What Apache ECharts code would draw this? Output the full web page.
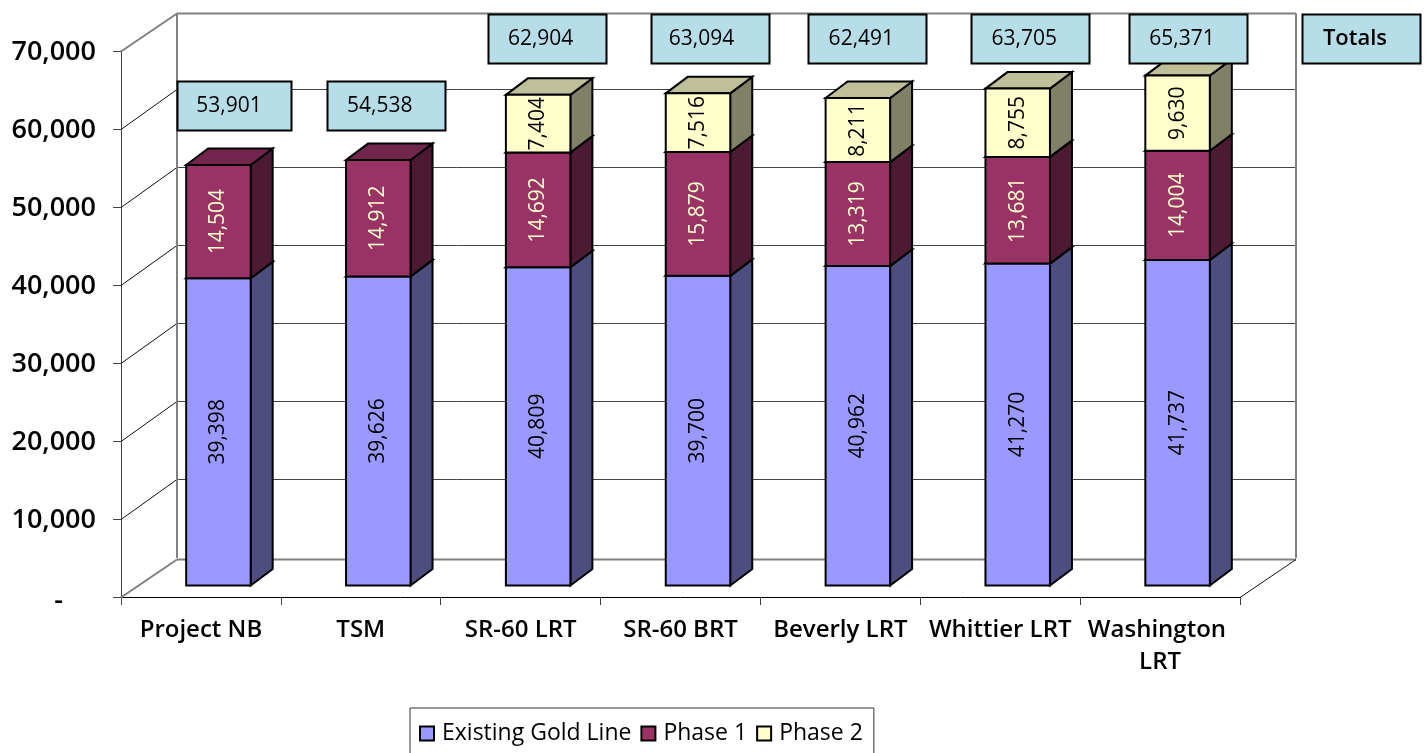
<!DOCTYPE html>
<html><head><meta charset="utf-8">
<style>html,body{margin:0;padding:0;background:#fff;overflow:hidden}#c{width:1426px;height:753px}</style>
<script src="https://cdn.jsdelivr.net/npm/echarts@6/dist/echarts.min.js"></script>
</head><body><div id="c"></div>
<script>
var categories = ['Project NB','TSM','SR-60 LRT','SR-60 BRT','Beverly LRT','Whittier LRT','Washington LRT'];
var existingGoldLine = [39398,39626,40809,39700,40962,41270,41737];
var phase1 = [14504,14912,14692,15879,13319,13681,14004];
var phase2 = [null,null,7404,7516,8211,8755,9630];
var totals = [53901,54538,62904,63094,62491,63705,65371];
var yTicks = [0,10000,20000,30000,40000,50000,60000,70000];

var FONT = '"Open Sans","Noto Sans",sans-serif';
var WALL = {x:56,y:-39}, BAR_OFF = {x:17.5,y:-11.5}, BAR_D = {x:22,y:-16.5}, BAR_W = 64.5;
var fmt = function(v){return v.toLocaleString('en-US');};

function line(x1,y1,x2,y2,color,w){
  return {type:'line',shape:{x1:x1,y1:y1,x2:x2,y2:y2},style:{stroke:color,lineWidth:w,fill:null}};
}
function renderWall(params,api){
  var v = api.value(0), cs = params.coordSys, p = api.coord([0,v]);
  var y = Math.round(p[1])+.5, x0 = cs.x, x1 = cs.x+cs.width, c = [];
  var edge = (v===0||v===70000);
  var bx0 = x0+WALL.x, bx1 = x1+WALL.x, by = Math.round(y+(edge?WALL.y:WALL.y-2))+.5;
  c.push(line(x0,y,bx0,by, edge?'#808080':'#111', edge?2:1));
  c.push(line(bx0,by,bx1,by, edge?'#808080':'#444', edge?2:1));
  if(v===0){ c.push(line(x1,y,bx1,by,'#111',1)); }
  if(v===70000){
    var b = api.coord([0,0])[1]+WALL.y;
    c.push(line(bx0,by,bx0,b,'#808080',2));
    c.push(line(bx1,by,bx1,b,'#808080',2));
  }
  return {type:'group',children:c};
}
function shade(fill,side,top,textColor){
  return function(params,api){
    var i=api.value(0), s=api.value(1), e=api.value(2);
    if(e==null||isNaN(e)) return;
    var c0=api.coord([i,s]), c1=api.coord([i,e]);
    var xl=c0[0]+BAR_OFF.x-BAR_W/2, xr=xl+BAR_W, yb=c0[1]+BAR_OFF.y, yt=c1[1]+BAR_OFF.y;
    var dx=BAR_D.x, dy=BAR_D.y;
    var st={stroke:'#000',lineWidth:2,lineJoin:'miter'};
    function poly(pts,f){return {type:'polygon',shape:{points:pts},style:Object.assign({fill:f},st)};}
    return {type:'group',children:[
      poly([[xr,yb],[xr+dx,yb+dy],[xr+dx,yt+dy],[xr,yt]],side),
      poly([[xl,yt],[xr,yt],[xr+dx,yt+dy],[xl+dx,yt+dy]],top),
      poly([[xl,yb],[xr,yb],[xr,yt],[xl,yt]],fill),
      {type:'text',x:(xl+xr)/2,y:(yb+yt)/2,rotation:Math.PI/2,
       style:{x:0,y:0,text:fmt(e-s),align:'center',verticalAlign:'middle',fill:textColor,font:'21px '+FONT}}
    ]};
  };
}
var boxLeft = [33,25,26,29,27,30,28];
var textShift = [-5,-6,-6,-8,-6,-6,-6];
function renderBox(params,api){
  var i=params.dataIndex, isTop=api.value(2)>0, p=api.coord([i,0]);
  var cx=p[0]+boxLeft[i], yT=isTop?14:81, w=i===0?114:118;
  return {type:'group',children:[
    {type:'rect',shape:{x:Math.round(cx-w/2)+.5,y:yT+.5,width:w,height:49},style:{fill:'#B7DEE8',stroke:'#000',lineWidth:2}},
    {type:'text',style:{x:cx+textShift[i],y:yT+25,text:fmt(api.value(1)),align:'center',verticalAlign:'middle',fill:'#000',font:'21px '+FONT}}
  ]};
}
function renderTotalsLabel(params,api){
  var cs=params.coordSys, x=cs.x+cs.width+62;
  return {type:'group',children:[
    {type:'rect',shape:{x:x+.5,y:14.5,width:118,height:49},style:{fill:'#B7DEE8',stroke:'#000',lineWidth:2}},
    {type:'text',style:{x:x+53,y:39,text:'Totals',align:'center',verticalAlign:'middle',fill:'#000',font:'600 22px '+FONT}}
  ]};
}
function segs(a,b){return categories.map(function(_,i){return [i,a[i],b?b[i]:null];});}
var base=categories.map(function(){return 0;});
var top1=existingGoldLine.map(function(v,i){return v+phase1[i];});
var top2=top1.map(function(v,i){return phase2[i]==null?null:v+phase2[i];});

var option={
  animation:false,
  backgroundColor:'#fff',
  textStyle:{fontFamily:FONT},
  grid:{left:121,top:51,width:1119,height:546,containLabel:false},
  legend:{
    left:410,top:708,itemWidth:14,itemHeight:14,itemGap:9,padding:[14,11,24,9],
    backgroundColor:'#fff',borderColor:'#333',borderWidth:1,borderRadius:0,
    selectedMode:false,icon:'rect',
    textStyle:{fontFamily:FONT,fontSize:23,color:'#000',padding:[0,0,0,3]},
    data:['Existing Gold Line','Phase 1','Phase 2']
  },
  xAxis:{type:'category',data:categories,boundaryGap:true,
    axisLine:{lineStyle:{color:'#000',width:1}},
    axisTick:{show:true,alignWithLabel:false,length:8,lineStyle:{color:'#444'}},
    axisLabel:{interval:0,margin:17,fontFamily:FONT,fontWeight:600,fontSize:24,color:'#000',lineHeight:32,width:150,overflow:'break'}},
  yAxis:{type:'value',min:0,max:70000,interval:10000,
    axisLine:{show:true,lineStyle:{color:'#444',width:1}},
    axisTick:{show:true,length:8,lineStyle:{color:'#444'}},
    splitLine:{show:false},
    axisLabel:{margin:25,padding:[3,0,0,0],fontFamily:FONT,fontWeight:600,fontSize:27,color:'#000',
      formatter:function(v){return v===0?'{d|-}':fmt(v);},
      rich:{d:{fontFamily:FONT,fontWeight:600,fontSize:27,color:'#000',padding:[6,33,0,0]}}}},
  series:[
    {type:'custom',name:'wall',z:1,clip:false,silent:true,renderItem:renderWall,data:yTicks.map(function(v){return [v];}),encode:{y:0}},
    {type:'custom',name:'Existing Gold Line',z:3,clip:false,itemStyle:{color:'#9999FF',borderColor:'#000',borderWidth:1.5},
      renderItem:shade('#9999FF','#4D4D80','#737399','#000'),data:segs(base,existingGoldLine),encode:{x:0,y:[1,2]}},
    {type:'custom',name:'Phase 1',z:3,clip:false,itemStyle:{color:'#993366',borderColor:'#000',borderWidth:1.5},
      renderItem:shade('#993366','#4D1A33','#73264D','#FFFFCC'),data:segs(existingGoldLine,top1),encode:{x:0,y:[1,2]}},
    {type:'custom',name:'Phase 2',z:3,clip:false,itemStyle:{color:'#FFFFCC',borderColor:'#000',borderWidth:1.5},
      renderItem:shade('#FFFFCC','#808066','#BFBF99','#000'),data:segs(top1,top2),encode:{x:0,y:[1,2]}},
    {type:'custom',name:'totals',z:5,clip:false,silent:true,renderItem:renderBox,
      data:categories.map(function(_,i){return [i,totals[i],phase2[i]==null?0:1];}),encode:{x:0}},
    {type:'custom',name:'totalsLabel',z:5,clip:false,silent:true,renderItem:renderTotalsLabel,data:[[0]],encode:{x:0}}
  ]
};
var chart=echarts.init(document.getElementById('c'),null,{renderer:'canvas',width:1426,height:753});
chart.setOption(option);
</script></body></html>
